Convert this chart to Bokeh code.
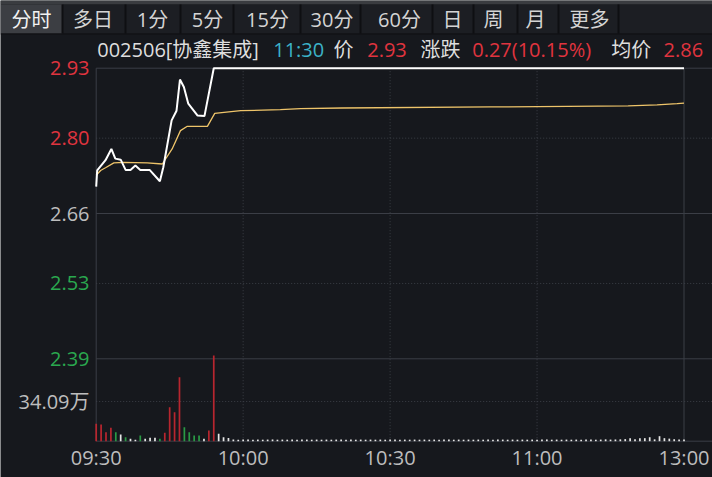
from bokeh.plotting import figure
from bokeh.models import Range1d, ColumnDataSource
from bokeh.core.properties import value
from bokeh.embed import file_html
from bokeh.resources import INLINE

# ---------------- data ----------------
stock_code = "002506"
stock_name = "协鑫集成"
quote_time = "11:30"
last_price = 2.93
price_change = 0.27
change_pct = 10.15
avg_price = 2.86
prev_close = 2.66

period_tabs = ["分时", "多日", "1分", "5分", "15分", "30分", "60分", "日", "周", "月", "更多"]

price_ticks = [2.93, 2.80, 2.66, 2.53, 2.39]
volume_tick = 34.09            # 万
time_ticks = [0, 30, 60, 90, 120]   # minutes after 09:30
time_labels = ["09:30", "10:00", "10:30", "11:00", "13:00"]

# intraday price (white line): minute, price
price_minute = [0, 0.2, 1.9, 3.1, 3.9, 5.0, 6.0, 7.0, 8.0, 9.0, 10.9, 13.0, 13.7,
                15.4, 16.4, 17.1, 17.9, 18.8, 20.7, 22.1, 24.0, 120]
price_value = [2.710, 2.740, 2.759, 2.780, 2.762, 2.760, 2.741, 2.741, 2.749, 2.741,
               2.741, 2.720, 2.746, 2.833, 2.851, 2.909, 2.895, 2.864, 2.842, 2.841,
               2.930, 2.930]

# average price (yellow line)
avg_minute = [0, 0.9, 1.9, 3.6, 5.6, 10.4, 13.5, 15.5, 17.2, 18.6, 22.7, 24.2, 26.1,
              29.5, 37.6, 41.7, 50.2, 80.5, 108.6, 114.5, 118.6, 120]
avg_value = [2.731, 2.740, 2.745, 2.754, 2.755, 2.754, 2.752, 2.780, 2.814, 2.822,
             2.822, 2.846, 2.848, 2.851, 2.853, 2.855, 2.856, 2.858, 2.860, 2.862,
             2.864, 2.865]

# per-minute volume (万), minutes 0..120
volume = [14.9, 14.3, 7.7, 11.5, 7.7, 5.8, 3.4, 2.1, 1.2, 4.9,
          2.1, 2.9, 2.9, 2.1, 7.2, 29.2, 24.9, 55.0, 12.0, 7.7,
          4.9, 4.9, 2.1, 9.2, 73.6, 6.4, 3.4, 2.7,
          1.4, 1.3, 1.4, 1.5, 1.3, 1.4, 1.3, 1.4, 1.5, 1.3,
          1.4, 1.3, 1.4, 1.3, 1.5, 1.4, 1.3, 1.4, 1.3, 1.4,
          1.3, 1.4, 1.5, 1.3, 1.4, 1.3, 1.4, 1.3, 1.4, 1.3,
          1.4, 1.3, 1.5, 1.4, 1.3, 1.4, 1.3, 1.4, 1.3, 1.4,
          1.3, 1.4, 1.3, 1.5, 1.4, 1.3, 1.4, 1.3, 1.4, 1.3,
          1.4, 1.3, 1.4, 1.3, 1.5, 1.4, 1.3, 1.4, 1.3, 1.4,
          1.3, 1.4, 1.3, 1.4, 1.5, 1.3, 1.4, 1.3, 1.4, 1.3,
          1.4, 1.3, 1.4, 1.5, 1.3, 1.4, 1.6, 1.4, 1.5, 1.6,
          1.8, 2.6, 1.7, 2.6, 2.6, 3.4, 1.6, 4.3, 2.6, 2.2,
          1.7, 1.5, 1.4]
# bar direction: r = up, g = down, w = unchanged (price held at limit after minute 24)
volume_dir_head = "rrrrgwgwwgwwwgrrrrggggwrrwww"
volume_dir = list(volume_dir_head) + ["w"] * (len(volume) - len(volume_dir_head))
volume_minute = list(range(len(volume)))

# ---------------- style / layout ----------------
FONT = "Open Sans, Noto Sans CJK SC"
BG = "#16181d"
RED = "#e0343f"
GREEN = "#2aa84f"
GREY_TXT = "#bdbdbd"
WHITE_TXT = "#dedede"
CYAN = "#3cb2c8"
GRID = "#3b3e46"
BAR_COLORS = {"r": "#b8262f", "g": "#2a9a45", "w": "#e6e6e6"}

W, H = 712, 477          # canvas size (Bokeh's page template has no body margin)
OX, OY = 0, 0            # canvas origin on the page
X0_PX, X1_PX = 95.7, 683.5       # 09:30 and 11:30/13:00 positions
YT_PX, YB_PX = 67.7, 358.3       # top and bottom price tick positions
VOL0_PX, VOLT_PX = 440.7, 401.0  # volume baseline and volume tick

px_per_min = (X1_PX - X0_PX) / (time_ticks[-1] - time_ticks[0])
x_start = (OX - X0_PX) / px_per_min
x_end = (OX + W - X0_PX) / px_per_min
price_per_px = (price_ticks[0] - price_ticks[-1]) / (YB_PX - YT_PX)
y_top = price_ticks[0] + (YT_PX - OY) * price_per_px
y_bot = price_ticks[-1] - (OY + H - YB_PX) * price_per_px
vol_per_px = volume_tick / (VOL0_PX - VOLT_PX)
v_top = (VOL0_PX - OY) * vol_per_px
v_bot = -(OY + H - VOL0_PX) * vol_per_px
base_price = price_ticks[-1] - (VOL0_PX - YB_PX) * price_per_px  # price level at volume baseline

p = figure(width=W, height=H, output_backend="svg", toolbar_location=None,
           x_range=Range1d(x_start, x_end), y_range=Range1d(y_bot, y_top),
           x_axis_type=None, y_axis_type=None, min_border=0,
           background_fill_color=BG, border_fill_color=BG, outline_line_color=None)
p.extra_y_ranges = {"vol": Range1d(v_bot, v_top), "px": Range1d(OY + H, OY)}
p.extra_x_ranges = {"px": Range1d(OX, OX + W)}

# ---- tab bar ----
TAB_EDGES = [0, 62, 125, 180, 233, 300, 360, 432, 473, 517, 558, 618]
TAB_CENTERS = [31, 92.5, 152, 207, 267, 331.5, 399, 452, 493, 535, 589]
tab_fill = ["#3c3e43"] + ["#1c1e23"] * (len(period_tabs) - 1)
p.quad(left=[0], right=[OX + W], top=[0], bottom=[4], fill_color="#3a3c40", line_color=None,
       x_range_name="px", y_range_name="px")
p.quad(left=TAB_EDGES[:-1], right=TAB_EDGES[1:], top=[4] * len(period_tabs),
       bottom=[33] * len(period_tabs), fill_color=tab_fill, line_color=None,
       x_range_name="px", y_range_name="px")
p.quad(left=[TAB_EDGES[-1]], right=[OX + W], top=[4], bottom=[33], fill_color="#1c1e23",
       line_color=None, x_range_name="px", y_range_name="px")
p.segment(x0=TAB_EDGES[1:], y0=[4] * (len(TAB_EDGES) - 1), x1=TAB_EDGES[1:],
          y1=[33] * (len(TAB_EDGES) - 1), line_color="#0e0f12", line_width=2,
          x_range_name="px", y_range_name="px")
p.segment(x0=[0], y0=[33.5], x1=[OX + W], y1=[33.5], line_color="#0e0f12", line_width=1,
          x_range_name="px", y_range_name="px")
p.text(x=TAB_CENTERS, y=[19] * len(period_tabs), text=period_tabs,
       text_color=["#f2f2f2"] + ["#d4d4d4"] * (len(period_tabs) - 1),
       text_font=value(FONT), text_font_size="20px", text_align="center",
       text_baseline="middle", x_range_name="px", y_range_name="px")

# ---- header ----
header_text = [f"{stock_code}[{stock_name}]", quote_time, "价", f"{last_price:.2f}", "涨跌",
               f"{price_change:.2f}({change_pct:.2f}%)", "均价", f"{avg_price:.2f}"]
header_color = [WHITE_TXT, CYAN, WHITE_TXT, RED, WHITE_TXT, RED, WHITE_TXT, RED]
HEADER_X = [96.7, 272.7, 333, 366.7, 420, 471.7, 610.7, 663]
p.text(x=HEADER_X, y=[49] * len(header_text), text=header_text, text_color=header_color,
       text_font=value(FONT), text_font_size="20px", text_align="left",
       text_baseline="middle", x_range_name="px", y_range_name="px")

# ---- grid lines ----
solid_prices = [price_ticks[0], prev_close, price_ticks[-1]]
dotted_prices = [t for t in price_ticks if t not in solid_prices]
p.segment(x0=[0] * len(solid_prices), y0=solid_prices, x1=[x_end + 5] * len(solid_prices),
          y1=solid_prices, line_color=GRID, line_width=1)
p.segment(x0=[0] * len(dotted_prices), y0=dotted_prices, x1=[x_end + 5] * len(dotted_prices),
          y1=dotted_prices, line_color=GRID, line_width=1, line_dash="1 2")
p.segment(x0=[0], y0=[volume_tick], x1=[x_end + 5], y1=[volume_tick], line_color=GRID,
          line_width=1, line_dash="1 2", y_range_name="vol")
p.segment(x0=[0], y0=[0], x1=[x_end + 5], y1=[0], line_color=GRID, line_width=1,
          y_range_name="vol")
edge_t = [time_ticks[0], time_ticks[-1]]
inner_t = time_ticks[1:-1]
p.segment(x0=edge_t, y0=[base_price] * 2, x1=edge_t, y1=[price_ticks[0]] * 2,
          line_color=GRID, line_width=1)
p.segment(x0=inner_t, y0=[base_price] * len(inner_t), x1=inner_t,
          y1=[price_ticks[0]] * len(inner_t), line_color=GRID, line_width=1, line_dash="1 2")

# ---- volume bars ----
vsrc = ColumnDataSource(dict(x=volume_minute, top=volume,
                             color=[BAR_COLORS[d] for d in volume_dir]))
p.vbar(x="x", top="top", bottom=0, width=0.35, source=vsrc, fill_color="color",
       line_color=None, y_range_name="vol")

# ---- price & average lines ----
p.line(avg_minute, avg_value, line_color="#eec46a", line_width=1.3)
p.line(price_minute, price_value, line_color="#ffffff", line_width=2)

# ---- axis labels ----
def tick_color(t):
    return RED if t > prev_close else (GREEN if t < prev_close else GREY_TXT)

p.text(x=[89] * len(price_ticks), y=price_ticks, text=[f"{t:.2f}" for t in price_ticks],
       text_color=[tick_color(t) for t in price_ticks], text_font=value(FONT),
       text_font_size="20px", text_align="right", text_baseline="middle", x_range_name="px")
p.text(x=[89], y=[volume_tick], text=[f"{volume_tick:.2f}万"], text_color=GREY_TXT,
       text_font=value(FONT), text_font_size="20px", text_align="right",
       text_baseline="middle", x_range_name="px", y_range_name="vol")
p.text(x=time_ticks, y=[457] * len(time_ticks), text=time_labels,
       text_color=GREY_TXT, text_font=value(FONT), text_font_size="20px",
       text_align="center", text_baseline="middle", y_range_name="px")

open("out.html", "w").write(file_html(p, INLINE))
